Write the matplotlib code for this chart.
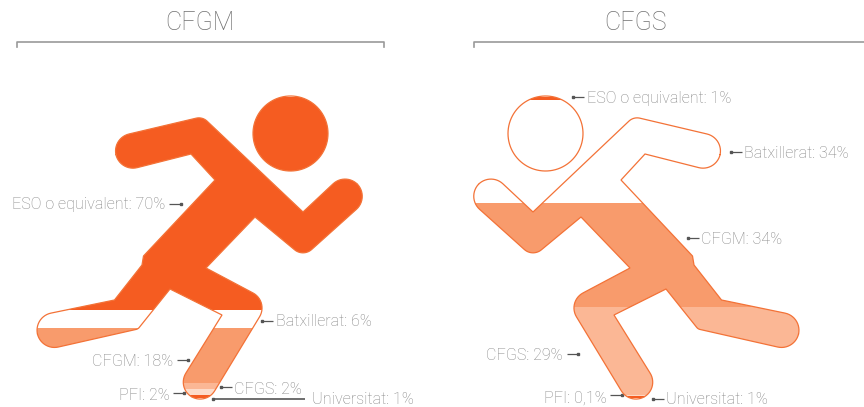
import matplotlib
matplotlib.use("Agg")
import matplotlib.pyplot as plt
import numpy as np
from matplotlib.path import Path
from matplotlib.patches import PathPatch

stages = ["ESO o equivalent", "Batxillerat", "CFGM", "CFGS", "PFI", "Universitat"]
cfgm_values = [70, 6, 18, 2, 2, 1]
cfgs_values = [1, 34, 34, 29, 0.1, 1]
stage_colors = ["#F55C21", "#FFFFFF", "#F89B6C", "#FBB795", "#FDDCCA", "#F55C21"]

# runner pictogram: x, y, corner radius (pixels)
runner = [
    (202.4, 116.7, 12), (303, 212, 0), (345.7, 172, 17.5), (369.9, 197.2, 17.5),
    (303.3, 257, 13), (255, 217, 0), (206, 268, 0), (268.9, 301.4, 17),
    (205.9, 405.3, 17), (176.7, 387.9, 17), (222, 315, 0), (170, 289, 0),
    (138, 329, 6), (41.2, 350.9, 17.5), (33.6, 316.7, 17.5), (114.5, 300, 0),
    (142, 265, 1), (143.5, 256, 1), (215, 180, 0), (191, 154, 0),
    (120, 172, 17.5), (112, 138, 17.5),
]
head = (290.5, 133.5, 37.5)
mirror_x = 836

orange = "#F37237"
grey = "#858585"
dark = "#555555"
font = ["Roboto", "DejaVu Sans"]


def rounded(points):
    verts = []
    n = len(points)
    for i in range(n):
        p = np.array(points[i][:2], float)
        r = points[i][2]
        a = np.array(points[i - 1][:2], float)
        b = np.array(points[(i + 1) % n][:2], float)
        if r == 0:
            verts.append(p)
            continue
        u = (a - p) / np.linalg.norm(a - p)
        v = (b - p) / np.linalg.norm(b - p)
        ang = np.arccos(np.clip(u @ v, -1, 1))
        t = r / np.tan(ang / 2)
        c = p + (u + v) / np.linalg.norm(u + v) * r / np.sin(ang / 2)
        s = np.arctan2(*(p + u * t - c)[::-1])
        e = np.arctan2(*(p + v * t - c)[::-1])
        d = (e - s + np.pi) % (2 * np.pi) - np.pi
        for k in np.linspace(0, 1, 14):
            verts.append(c + r * np.array([np.cos(s + d * k), np.sin(s + d * k)]))
    return np.array(verts)


def figure_path(mirror):
    body = rounded(runner)
    th = np.linspace(0, 2 * np.pi, 90)
    circle = np.c_[head[0] + head[2] * np.cos(th), head[1] + head[2] * np.sin(th)]
    if mirror:
        body[:, 0] = mirror_x - body[:, 0]
        circle[:, 0] = mirror_x - circle[:, 0]
    verts = np.r_[body, body[:1], circle, circle[:1]]
    codes = [Path.MOVETO] + [Path.LINETO] * (len(body) - 1) + [Path.CLOSEPOLY]
    codes += [Path.MOVETO] + [Path.LINETO] * (len(circle) - 1) + [Path.CLOSEPOLY]
    return Path(verts, codes)


def draw_runner(ax, values, mirror):
    path = figure_path(mirror)
    clip = PathPatch(path, fc="none", ec="none", transform=ax.transData)
    ax.add_patch(clip)
    x0 = path.vertices[:, 0].min()
    x1 = path.vertices[:, 0].max()
    bottom = 97.0
    for v, c in zip(values, stage_colors):
        h = v * 3.04
        # very thin shares still need to show up as a hairline
        bar = ax.bar((x0 + x1) / 2, h, x1 - x0 + 4, bottom=bottom, color=c,
                     ec=c, lw=0.7 if v < 1 else 0, zorder=3 if v < 1 else 2)[0]
        bar.set_clip_path(clip)
        bottom += h
    ax.add_patch(PathPatch(path, fc="none", ec=orange, lw=0.9, zorder=4))


def label(ax, stage, value, tx, ty, lx0, lx1, ly, ha="left", lw=0.9):
    text = f"{stage}: {value}%".replace(".", ",")
    ax.text(tx, ty + 1, text, ha=ha, va="center", fontsize=11.6, color=grey,
            family=font, weight="light")
    ax.plot([lx0, lx1], [ly, ly], color=dark, lw=lw, solid_capstyle="butt")
    ax.plot([lx1], [ly], "s", color=dark, ms=1.8)


fig = plt.figure(figsize=(8.64, 4.07), dpi=100)
ax = fig.add_axes([0, 0, 1, 1])
ax.set_xlim(0, 864)
ax.set_ylim(407, 0)
ax.axis("off")

draw_runner(ax, cfgm_values, False)
draw_runner(ax, cfgs_values, True)

ax.text(200, 23, "CFGM", ha="center", va="center", fontsize=18, color="#707070",
        family=font, weight="light")
ax.text(636, 23, "CFGS", ha="center", va="center", fontsize=18, color="#707070",
        family=font, weight="light")
ax.plot([17, 17, 384, 384], [47, 42, 42, 47], color="#999999", lw=1.2)
ax.plot([473.5, 473.5, 864], [47, 42, 42], color="#999999", lw=1.2)

label(ax, stages[0], cfgm_values[0], 165, 204, 169, 181, 204, ha="right")
label(ax, stages[1], cfgm_values[1], 276, 321, 273, 262, 321)
label(ax, stages[2], cfgm_values[2], 173, 360, 177, 188, 360, ha="right")
label(ax, stages[3], cfgm_values[3], 234, 388, 232, 221, 387)
label(ax, stages[4], cfgm_values[4], 170, 395, 173, 184, 393, ha="right")
label(ax, stages[5], cfgm_values[5], 312, 399, 305, 213, 399, lw=1.2)

label(ax, stages[0], cfgs_values[0], 587, 98, 584, 573, 97)
label(ax, stages[1], cfgs_values[1], 744, 153, 742, 731, 152)
label(ax, stages[2], cfgs_values[2], 701, 238, 699, 688, 238)
label(ax, stages[3], cfgs_values[3], 563, 355, 567, 578, 354, ha="right")
label(ax, stages[4], cfgs_values[4], 607, 397, 610, 622, 395, ha="right")
label(ax, stages[5], cfgs_values[5], 666, 399, 664, 653, 399)

fig.savefig("out.png", dpi=100)
